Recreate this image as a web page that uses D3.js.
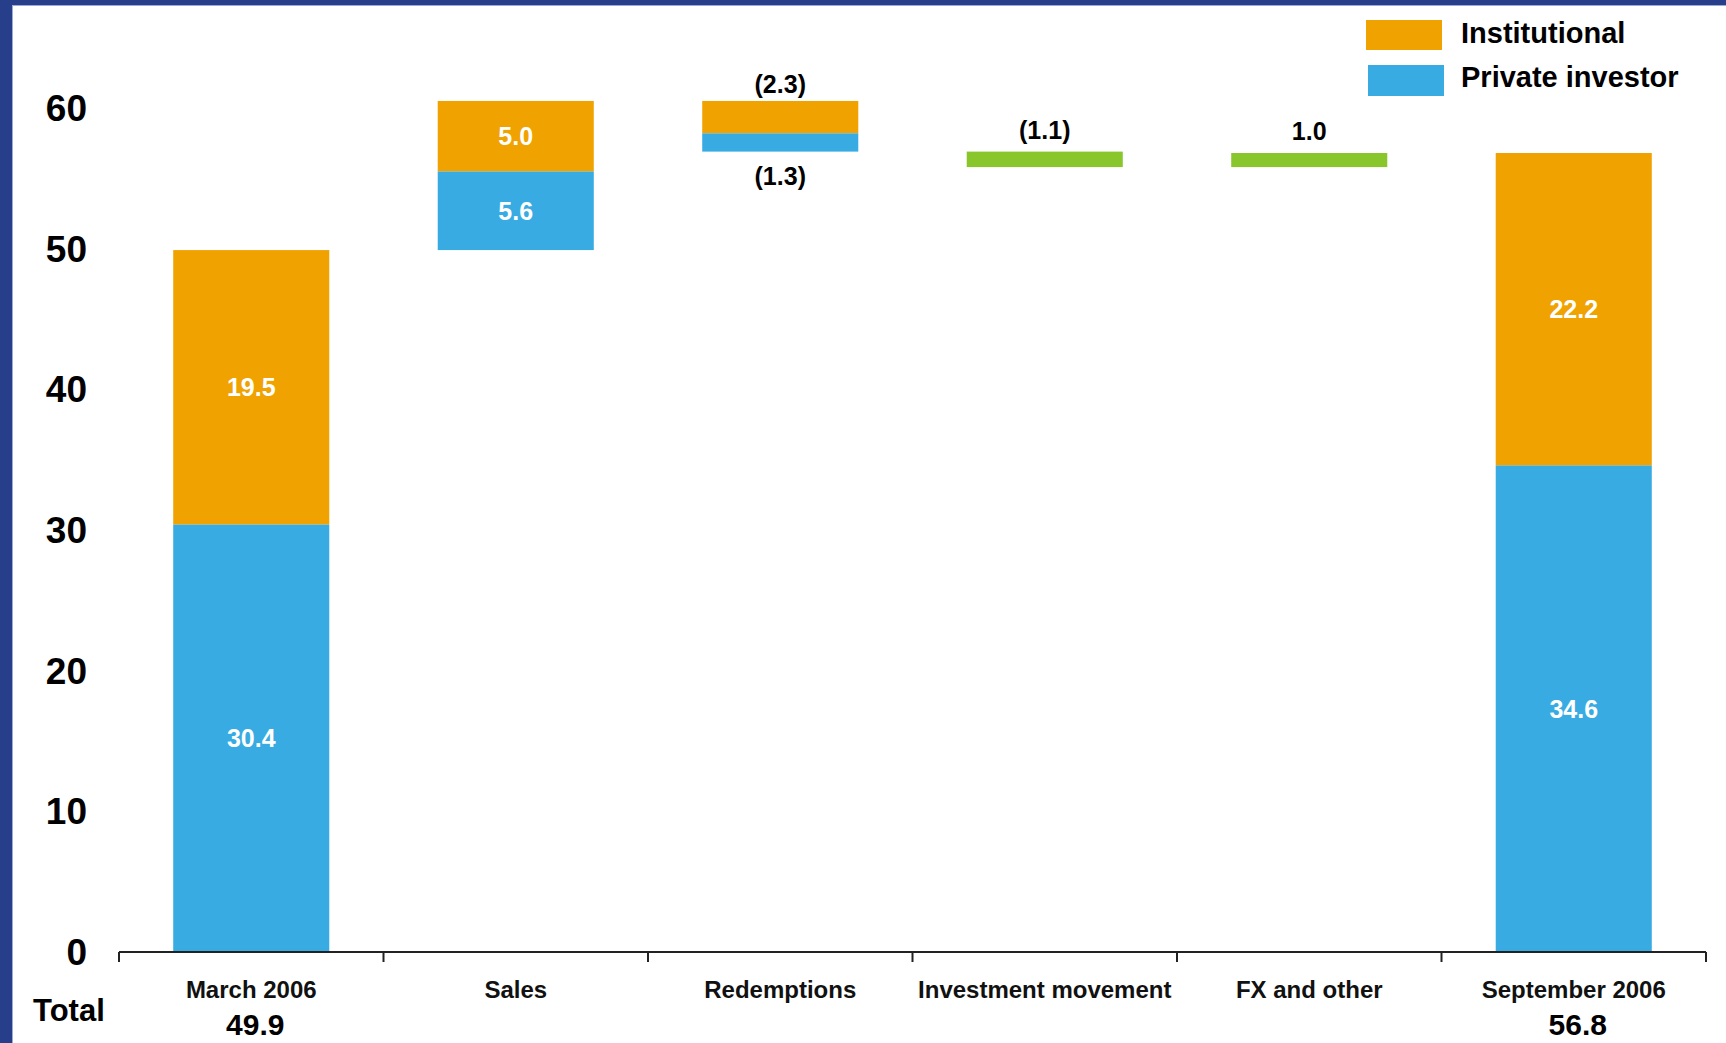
<!DOCTYPE html>
<html>
<head>
<meta charset="utf-8">
<script src="https://cdn.jsdelivr.net/npm/d3@7"></script>
<style>
  html, body { margin: 0; padding: 0; background: #ffffff; }
  svg { display: block; font-family: "Liberation Sans", Arial, sans-serif; font-weight: bold; }
</style>
</head>
<body>
<svg id="chart" width="1726" height="1043"></svg>
<script>
// Assets under management bridge, March 2006 to September 2006
const categories = ["March 2006", "Sales", "Redemptions", "Investment movement", "FX and other", "September 2006"];
const barKind = ["total", "step", "step", "step", "step", "total"];
const institutional = [19.5, 5.0, -2.3, null, null, 22.2];
const privateInvestor = [30.4, 5.6, -1.3, null, null, 34.6];
const otherMovement = [null, null, null, -1.1, 1.0, null];
const totalLabels = [49.9, null, null, null, null, 56.8];
const yTicks = [0, 10, 20, 30, 40, 50, 60];
const legendLabels = ["Institutional", "Private investor"];

const colors = { institutional: "#F0A200", private: "#38ABE3", other: "#88C62C" };

const svg = d3.select("#chart");
const W = 1726, H = 1043;

// frame
svg.append("rect").attr("x", 0).attr("y", 0).attr("width", W).attr("height", H).attr("fill", "#ffffff");
svg.append("rect").attr("x", 0).attr("y", 0).attr("width", W).attr("height", 5).attr("fill", "#273F8A");
svg.append("rect").attr("x", 0).attr("y", 5).attr("width", W).attr("height", 1).attr("fill", "#9AAAD8");
svg.append("rect").attr("x", 0).attr("y", 0).attr("width", 12).attr("height", H).attr("fill", "#273F8A");
svg.append("rect").attr("x", 12).attr("y", 5).attr("width", 1).attr("height", H).attr("fill", "#9AAAD8");

const x = d3.scaleBand().domain(categories).range([119, 1706]).padding(0);
const y = d3.scaleLinear().domain([0, 60]).range([952, 108]);
const barW = x.bandwidth() * 0.59;
const fmt = v => v < 0 ? "(" + Math.abs(v).toFixed(1) + ")" : v.toFixed(1);

// build segments for the waterfall
const segments = [];
const labels = [];
let running = 0;
categories.forEach((c, i) => {
  const cx = x(c) + x.bandwidth() / 2;
  if (barKind[i] === "total") {
    const p = privateInvestor[i], inst = institutional[i];
    segments.push({ c, y0: 0, y1: p, color: colors.private });
    segments.push({ c, y0: p, y1: p + inst, color: colors.institutional });
    labels.push({ cx, v: p / 2, text: fmt(p), fill: "#fff" });
    labels.push({ cx, v: p + inst / 2, text: fmt(inst), fill: "#fff" });
    running = p + inst;
  } else if (otherMovement[i] !== null) {
    const v = otherMovement[i];
    segments.push({ c, y0: running, y1: running + v, color: colors.other });
    labels.push({ cx, top: Math.max(running, running + v), text: fmt(v), fill: "#000", pos: "above", gap: 13 });
    running += v;
  } else {
    const p = privateInvestor[i], inst = institutional[i];
    if (p >= 0) {
      segments.push({ c, y0: running, y1: running + p, color: colors.private });
      segments.push({ c, y0: running + p, y1: running + p + inst, color: colors.institutional });
      labels.push({ cx, v: running + p / 2, text: fmt(p), fill: "#fff" });
      labels.push({ cx, v: running + p + inst / 2, text: fmt(inst), fill: "#fff" });
      running += p + inst;
    } else {
      const top = running;
      segments.push({ c, y0: top, y1: top + inst, color: colors.institutional });
      segments.push({ c, y0: top + inst, y1: top + inst + p, color: colors.private });
      labels.push({ cx, top: top, text: fmt(inst), fill: "#000", pos: "above", gap: 8 });
      labels.push({ cx, bottom: top + inst + p, text: fmt(p), fill: "#000", pos: "below" });
      running = top + inst + p;
    }
  }
});

svg.append("g").selectAll("rect").data(segments).join("rect")
  .attr("x", d => x(d.c) + (x.bandwidth() - barW) / 2)
  .attr("width", barW)
  .attr("y", d => y(Math.max(d.y0, d.y1)))
  .attr("height", d => Math.abs(y(d.y0) - y(d.y1)))
  .attr("fill", d => d.color);

svg.append("g").selectAll("text").data(labels).join("text")
  .attr("x", d => d.cx)
  .attr("y", d => d.pos === "above" ? y(d.top) - d.gap : d.pos === "below" ? y(d.bottom) + 33 : y(d.v) + 9)
  .attr("text-anchor", "middle")
  .attr("font-size", 25)
  .attr("fill", d => d.fill)
  .text(d => d.text);

// y tick labels (no axis line)
svg.append("g").selectAll("text").data(yTicks).join("text")
  .attr("x", 87)
  .attr("y", d => y(d) + 13)
  .attr("text-anchor", "end")
  .attr("font-size", 37)
  .attr("fill", "#000")
  .text(d => d);

// x axis with ticks on band boundaries
const xAxis = svg.append("g").attr("transform", "translate(0,952)");
xAxis.call(d3.axisBottom(x).tickSize(0).tickPadding(0))
  .call(g => g.select(".domain").attr("stroke", "#222").attr("stroke-width", 2).attr("d", "M119,0H1706"))
  .call(g => g.selectAll(".tick text")
    .attr("y", 46).attr("dy", null)
    .attr("font-size", 24).attr("font-weight", "bold").attr("fill", "#111")
    .attr("font-family", "'Liberation Sans', Arial, sans-serif"));
const edges = categories.map(c => x(c)).concat([x(categories[categories.length - 1]) + x.bandwidth()]);
xAxis.selectAll("line.edge").data(edges).join("line")
  .attr("class", "edge")
  .attr("x1", d => d).attr("x2", d => d)
  .attr("y1", 0).attr("y2", 10)
  .attr("stroke", "#222").attr("stroke-width", 2);

// totals row
svg.append("text").attr("x", 33).attr("y", 1021).attr("font-size", 31).attr("fill", "#000").text("Total");
svg.append("g").selectAll("text").data(categories.map((c, i) => ({ c, v: totalLabels[i] })).filter(d => d.v !== null)).join("text")
  .attr("x", d => x(d.c) + x.bandwidth() / 2 + 4)
  .attr("y", 1035)
  .attr("text-anchor", "middle")
  .attr("font-size", 30)
  .attr("fill", "#000")
  .text(d => d.v.toFixed(1));

// legend
const legend = svg.append("g");
const legendColors = [colors.institutional, colors.private];
legendLabels.forEach((t, i) => {
  legend.append("rect").attr("x", 1366 + i * 2).attr("y", 20 + i * 45).attr("width", 76).attr("height", 30 + i).attr("fill", legendColors[i]);
  legend.append("text").attr("x", 1461).attr("y", 43 + i * 44).attr("font-size", 29).attr("fill", "#000").text(t);
});
</script>
</body>
</html>
